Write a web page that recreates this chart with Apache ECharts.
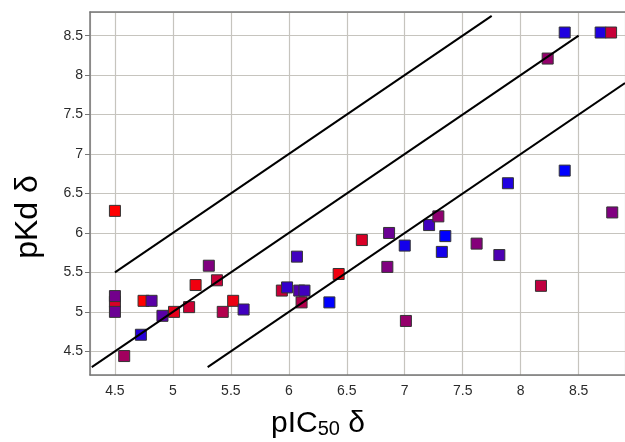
<!DOCTYPE html>
<html>
<head>
<meta charset="utf-8">
<script src="https://cdn.jsdelivr.net/npm/echarts@6/dist/echarts.min.js"></script>
<style>
  html, body { margin: 0; padding: 0; background: #fff; }
  #chart { width: 625px; height: 442px; }
</style>
</head>
<body>
<div id="chart"></div>
<script>
// 数据：pIC50 δ / pKd δ / 颜色分值 (0 = 蓝, 1 = 红)
const pic50 = [4.5, 4.5, 4.5, 4.5, 4.58, 4.724, 4.747, 4.816, 4.91, 5.01,
  5.14, 5.196, 5.31, 5.38, 5.43, 5.52, 5.61, 5.94, 5.985, 6.07,
  6.11, 6.09, 6.135, 6.35, 6.43, 6.63, 6.85, 6.865, 7.0, 7.01,
  7.21, 7.29, 7.32, 7.35, 7.62, 7.816, 7.89, 8.175, 8.233, 8.38,
  8.38, 8.69, 8.78, 8.79]
const pkd = [6.28, 5.13, 5.2, 5.0, 4.44, 4.71, 5.14, 5.14, 4.95, 5.0,
  5.06, 5.34, 5.585, 5.4, 5.0, 5.14, 5.03, 5.27, 5.31, 5.7,
  5.12, 5.27, 5.27, 5.12, 5.48, 5.91, 5.57, 6.0, 5.84, 4.885,
  6.1, 6.21, 5.76, 5.96, 5.865, 5.72, 6.63, 5.33, 8.21, 6.79,
  8.54, 8.54, 8.54, 6.26]
const colorScore = [1.0, 0.85, 0.45, 0.42, 0.63, 0.15, 1.0, 0.35, 0.35, 0.9,
  0.8, 0.94, 0.5, 0.78, 0.7, 0.92, 0.25, 0.78, 0.2, 0.25,
  0.7, 0.33, 0.25, 0.0, 0.94, 0.85, 0.5, 0.42, 0.08, 0.58,
  0.25, 0.56, 0.08, 0.0, 0.52, 0.3, 0.12, 0.75, 0.58, 0.0,
  0.12, 0.12, 0.78, 0.5]

// 参考线 y = x, y = x + 1, y = x - 1
const parityLine = [[4.3, 4.3], [8.5, 8.5]]
const upperLine = [[4.5, 5.5], [7.75, 8.75]]
const lowerLine = [[5.3, 4.3], [8.9, 7.9]]

const xMin = 4.285
const xMax = 8.9
const yMin = 4.2
const yMax = 8.8

const points = pic50.map((x, i) => [x, pkd[i], colorScore[i]])

const chart = echarts.init(document.getElementById('chart'))

const labelStyle = {
  color: '#2a2a2a',
  fontSize: 14,
  fontFamily: 'Liberation Sans, Arial, sans-serif',
  showMinLabel: false,
  showMaxLabel: false
}

const lineSeries = (data) => ({
  type: 'line',
  data: data,
  symbol: 'none',
  silent: true,
  z: 5,
  lineStyle: { color: '#000', width: 2 }
})

const option = {
  animation: false,
  backgroundColor: '#fff',
  grid: { left: 90, right: 0, top: 12, bottom: 67 },
  xAxis: [
    {
      type: 'value',
      min: xMin,
      max: xMax,
      splitNumber: 9,
      axisLine: { show: true, lineStyle: { color: '#777', width: 1.5 } },
      axisTick: { show: false },
      axisLabel: { ...labelStyle, margin: 9 },
      splitLine: { show: true, lineStyle: { color: '#c6c4be', width: 1.2 } }
    },
    {
      type: 'value',
      position: 'top',
      min: xMin,
      max: xMax,
      axisLine: { show: true, onZero: false, lineStyle: { color: '#777', width: 1.5 } },
      axisTick: { show: false },
      axisLabel: { show: false },
      splitLine: { show: false }
    }
  ],
  yAxis: {
    type: 'value',
    min: yMin,
    max: yMax,
    splitNumber: 9,
    axisLine: { show: true, onZero: false, lineStyle: { color: '#777', width: 1.5 } },
    axisTick: { show: true, length: 5, lineStyle: { color: '#777' } },
    axisLabel: { ...labelStyle, margin: 7 },
    splitLine: { show: true, lineStyle: { color: '#c6c4be', width: 1.2 } }
  },
  visualMap: {
    show: false,
    type: 'continuous',
    seriesIndex: 0,
    dimension: 2,
    min: 0,
    max: 1,
    inRange: { color: ['#0000ff', '#ff0000'] }
  },
  series: [
    {
      type: 'scatter',
      data: points,
      symbol: 'rect',
      symbolSize: 11,
      z: 3,
      itemStyle: { borderColor: '#333', borderWidth: 1, opacity: 1 }
    },
    lineSeries(parityLine),
    lineSeries(upperLine),
    lineSeries(lowerLine)
  ],
  graphic: [
    {
      type: 'text',
      x: 318,
      y: 422,
      style: {
        text: '{a|pIC}{s|50}{a| δ}',
        align: 'center',
        verticalAlign: 'middle',
        fill: '#000',
        rich: {
          a: { fontSize: 30, lineHeight: 34, verticalAlign: 'bottom', fontFamily: 'Liberation Sans, Arial, sans-serif', fill: '#000' },
          s: { fontSize: 20, lineHeight: 18, verticalAlign: 'bottom', fontFamily: 'Liberation Sans, Arial, sans-serif', fill: '#000' }
        }
      }
    },
    {
      type: 'text',
      x: 28,
      y: 217,
      rotation: Math.PI / 2,
      style: {
        text: 'pKd δ',
        align: 'center',
        verticalAlign: 'middle',
        fill: '#000',
        fontSize: 32,
        fontFamily: 'Liberation Sans, Arial, sans-serif'
      }
    }
  ]
}

chart.setOption(option)
</script>
</body>
</html>
